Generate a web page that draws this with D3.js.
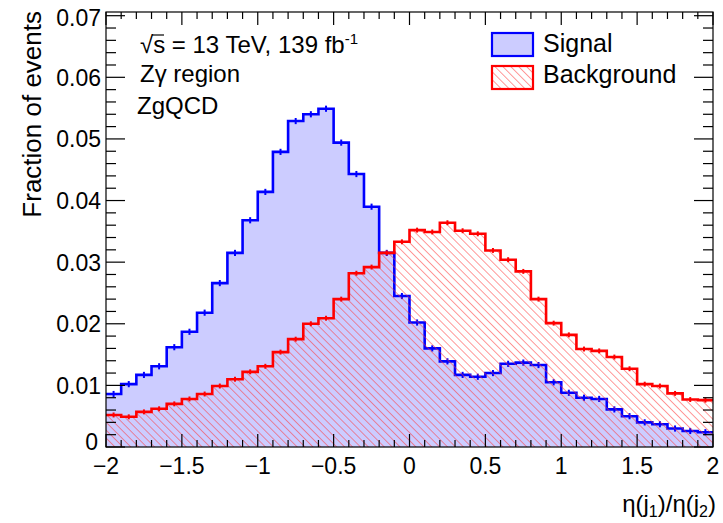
<!DOCTYPE html>
<html>
<head>
<meta charset="utf-8">
<script src="https://cdn.jsdelivr.net/npm/d3@7"></script>
<style>
  body { margin: 0; background: #fff; }
  svg { display: block; font-family: "Liberation Sans", Arial, sans-serif; }
</style>
</head>
<body>
<div id="chart"></div>
<script>
// histogram binning: 40 bins of 0.1 from -2 to 2
const xMin = -2, xMax = 2, nBins = 40;

// fraction of events per bin
const signal = [
  0.0086, 0.0102, 0.0117, 0.0131, 0.0162, 0.0187, 0.0218, 0.0266, 0.0315, 0.0368,
  0.0414, 0.0479, 0.0529, 0.0540, 0.0549, 0.0494, 0.0443, 0.0390, 0.0315, 0.0245,
  0.0202, 0.0160, 0.0139, 0.0117, 0.0114, 0.0120, 0.0135, 0.0137, 0.0133, 0.0105,
  0.0088, 0.0080, 0.0078, 0.0061, 0.0050, 0.0040, 0.0037, 0.0030, 0.0026, 0.0024
];
const background = [
  0.0052, 0.0049, 0.0057, 0.0062, 0.0070, 0.0078, 0.0086, 0.0099, 0.0110, 0.0122,
  0.0131, 0.0154, 0.0175, 0.0200, 0.0209, 0.0240, 0.0282, 0.0292, 0.0315, 0.0333,
  0.0352, 0.0349, 0.0364, 0.0351, 0.0346, 0.0319, 0.0304, 0.0285, 0.0240, 0.0201,
  0.0182, 0.0159, 0.0156, 0.0146, 0.0127, 0.0102, 0.0099, 0.0087, 0.0077, 0.0076
];
// stat. uncertainty (half length of the error bar)
const sigErr = 0.0005;
const bkgErr = 0.0004;

const xTicks = [-2, -1.5, -1, -0.5, 0, 0.5, 1, 1.5, 2];
const xTickLabels = ['\u22122', '\u22121.5', '\u22121', '\u22120.5', '0', '0.5', '1', '1.5', '2'];
const yTicks = [0, 0.01, 0.02, 0.03, 0.04, 0.05, 0.06, 0.07];
const yTickLabels = ['0', '0.01', '0.02', '0.03', '0.04', '0.05', '0.06', '0.07'];

const width = 723, height = 523;
const frame = { left: 106, right: 713, top: 12, bottom: 447 };

const svg = d3.select('#chart').append('svg')
  .attr('width', width)
  .attr('height', height);

const x = d3.scaleLinear().domain([xMin, xMax]).range([frame.left, frame.right]);
const y = d3.scaleLinear().domain([0, 0.0706]).range([frame.bottom, frame.top]);

// hatch pattern for background
const defs = svg.append('defs');
defs.append('pattern')
  .attr('id', 'hatch')
  .attr('patternUnits', 'userSpaceOnUse')
  .attr('width', 5.6).attr('height', 5.6)
  .attr('patternTransform', 'rotate(-45)')
  .append('line')
  .attr('x1', 0).attr('y1', 0).attr('x2', 0).attr('y2', 5.6)
  .attr('stroke', '#ff3030').attr('stroke-opacity', 0.9).attr('stroke-width', 1.1);
defs.append('clipPath').attr('id', 'clip')
  .append('rect')
  .attr('x', frame.left).attr('y', frame.top)
  .attr('width', frame.right - frame.left).attr('height', frame.bottom - frame.top);

const binW = (xMax - xMin) / nBins;
const bins = (vals) => vals.map((v, i) => ({ lo: xMin + i * binW, hi: xMin + (i + 1) * binW, v: v }));

function stepPoints(vals) {
  const pts = [];
  bins(vals).forEach(b => {
    pts.push([x(b.lo), y(b.v)]);
    pts.push([x(b.hi), y(b.v)]);
  });
  return pts;
}
const line = d3.line();

const plot = svg.append('g').attr('clip-path', 'url(#clip)');

function drawHist(vals, fill, color, err) {
  const pts = stepPoints(vals);
  const area = [[x(xMin), y(0)]].concat(pts, [[x(xMax), y(0)]]);
  plot.append('path')
    .attr('d', line(area) + 'Z')
    .attr('fill', fill)
    .attr('stroke', 'none');
  plot.append('path')
    .attr('d', line(pts))
    .attr('fill', 'none')
    .attr('stroke', color)
    .attr('stroke-width', 2.6);
  plot.selectAll(null)
    .data(bins(vals))
    .enter()
    .append('line')
    .attr('x1', d => x((d.lo + d.hi) / 2))
    .attr('x2', d => x((d.lo + d.hi) / 2))
    .attr('y1', d => y(d.v - err))
    .attr('y2', d => y(d.v + err))
    .attr('stroke', color)
    .attr('stroke-width', 2);
}

drawHist(signal, '#ccccff', '#0000ff', sigErr);
drawHist(background, 'url(#hatch)', '#ff0000', bkgErr);

// frame and ticks
const axisG = svg.append('g').attr('stroke', '#000');
axisG.append('rect')
  .attr('x', frame.left).attr('y', frame.top)
  .attr('width', frame.right - frame.left).attr('height', frame.bottom - frame.top)
  .attr('fill', 'none').attr('stroke-width', 1.2);

const xMinor = d3.range(nBins + 1).map(i => xMin + i * binW);
xMinor.forEach(v => {
  const major = xTicks.some(t => Math.abs(t - v) < 1e-6);
  const len = major ? 13 : 7;
  axisG.append('line').attr('x1', x(v)).attr('x2', x(v))
    .attr('y1', frame.bottom).attr('y2', frame.bottom - len).attr('stroke-width', 1.2);
  axisG.append('line').attr('x1', x(v)).attr('x2', x(v))
    .attr('y1', frame.top).attr('y2', frame.top + len).attr('stroke-width', 1.2);
});
const yMinor = d3.range(36).map(i => i * 0.002);
yMinor.forEach(v => {
  const major = yTicks.some(t => Math.abs(t - v) < 1e-6);
  const len = major ? 19 : 10;
  axisG.append('line').attr('x1', frame.left).attr('x2', frame.left + len)
    .attr('y1', y(v)).attr('y2', y(v)).attr('stroke-width', 1.2);
  axisG.append('line').attr('x1', frame.right).attr('x2', frame.right - len)
    .attr('y1', y(v)).attr('y2', y(v)).attr('stroke-width', 1.2);
});

// tick labels
svg.selectAll('.ylab')
  .data(yTicks)
  .enter()
  .append('text')
  .attr('x', (d, i) => i === 0 ? 98 : 101)
  .attr('y', (d, i) => y(d) + (i === 0 ? 3 : i === yTicks.length - 1 ? 10.5 : 8.5))
  .attr('text-anchor', 'end')
  .attr('font-size', 23)
  .text((d, i) => yTickLabels[i]);

svg.selectAll('.xlab')
  .data(xTicks)
  .enter()
  .append('text')
  .attr('x', d => x(d))
  .attr('y', 474)
  .attr('text-anchor', 'middle')
  .attr('font-size', 23)
  .text((d, i) => xTickLabels[i]);

// axis titles
svg.append('text')
  .attr('transform', 'translate(41,11) rotate(-90)')
  .attr('text-anchor', 'end')
  .attr('font-size', 26)
  .text('Fraction of events');

const xt = svg.append('text')
  .attr('x', 716).attr('y', 512)
  .attr('text-anchor', 'end')
  .attr('font-size', 24);
xt.append('tspan').text('\u03b7(j');
xt.append('tspan').attr('font-size', 16).attr('dy', 5).text('1');
xt.append('tspan').attr('dy', -5).text(')/\u03b7(j');
xt.append('tspan').attr('font-size', 16).attr('dy', 5).text('2');
xt.append('tspan').attr('dy', -5).text(')');

// labels top-left
const lab = svg.append('g').attr('font-size', 24);
const l1 = lab.append('text').attr('x', 140).attr('y', 53);
l1.append('tspan').text('\u221as = 13 TeV, 139 fb');
l1.append('tspan').attr('font-size', 15).attr('dy', -9).text('-1');
lab.append('line')
  .attr('x1', 152).attr('x2', 164).attr('y1', 35).attr('y2', 35)
  .attr('stroke', '#000').attr('stroke-width', 1.2);
lab.append('text').attr('x', 140).attr('y', 82).text('Z\u03b3 region');
lab.append('text').attr('x', 137).attr('y', 114).text('ZgQCD');

// legend
const legend = svg.append('g');
legend.append('rect')
  .attr('x', 492).attr('y', 33).attr('width', 41).attr('height', 23)
  .attr('fill', '#ccccff').attr('stroke', '#0000ff').attr('stroke-width', 2.2);
legend.append('rect')
  .attr('x', 492).attr('y', 66).attr('width', 41).attr('height', 23)
  .attr('fill', 'url(#hatch)').attr('stroke', '#ff0000').attr('stroke-width', 2.2);
legend.append('text').attr('x', 543).attr('y', 52).attr('font-size', 25).text('Signal');
legend.append('text').attr('x', 543).attr('y', 83).attr('font-size', 25).text('Background');
</script>
</body>
</html>
